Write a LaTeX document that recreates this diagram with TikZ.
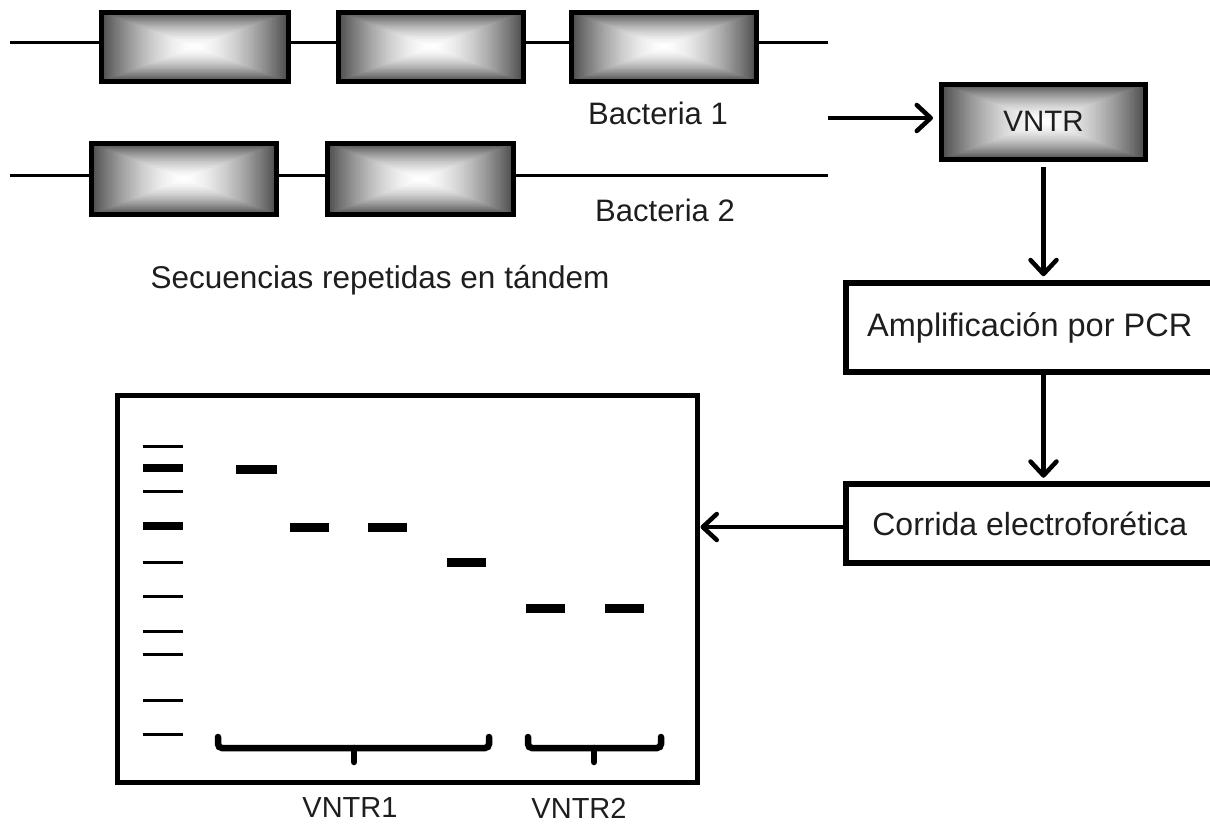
\documentclass[tikz,border=0pt]{standalone}
\usepackage{fontspec}
\setmainfont{Liberation Sans}
\usetikzlibrary{arrows.meta,calc}
\definecolor{edgegray}{RGB}{78,78,78}
\definecolor{txt}{RGB}{30,30,30}
\tikzset{
  gbox/.style={draw, line width=5pt, inner sep=0pt, path picture={
    \foreach \i in {0,...,59} {
      \pgfmathsetmacro\gs{1-\i/60}
      \pgfmathsetmacro\gp{100*(\gs)^1.6}
      \fill[fill=edgegray!\gp!white]
        ($(path picture bounding box.center)!\gs!(path picture bounding box.north west)$)
        rectangle
        ($(path picture bounding box.center)!\gs!(path picture bounding box.south east)$);
    }
  }},
  wbox/.style={draw, line width=6pt, fill=white, inner sep=0pt},
  lbl/.style={font=\fontsize{29}{34}\selectfont, text=txt, inner sep=0pt},
  rowline/.style={line width=3pt},
  arr/.style={line width=4.5pt, -{Straight Barb[length=14pt, width=26pt, round]}},
  thin/.style={line width=3pt},
  thick/.style={line width=8pt},
  band/.style={line width=9pt},
  brace/.style={line width=6.5pt, rounded corners=4pt, line cap=round},
}
\begin{document}
\begin{tikzpicture}[x=1pt, y=-1pt]
\useasboundingbox (0,0) rectangle (1210,827);
\clip (0,0) rectangle (1210,827);

% DNA lines
\coordinate (r1s) at (10,42);
\coordinate (r1e) at (828,42);
\coordinate (r2s) at (10,175);
\coordinate (r2e) at (828,175);
\draw[rowline] (r1s) -- (r1e);
\draw[rowline] (r2s) -- (r2e);

% tandem repeats
\node[gbox, minimum width=186.5pt, minimum height=69.5pt] (A1) at (194.75,46.75) {};
\node[gbox, minimum width=185pt, minimum height=69.5pt] (A2) at (431,46.75) {};
\node[gbox, minimum width=185pt, minimum height=69.5pt] (A3) at (664,46.75) {};
\node[gbox, minimum width=185pt, minimum height=71pt] (B1) at (184,179) {};
\node[gbox, minimum width=186pt, minimum height=71pt] (B2) at (420.5,179) {};

\node[lbl, font=\fontsize{31}{36}\selectfont] (bac1) at (658,113) {Bacteria 1};
\node[lbl, font=\fontsize{31}{36}\selectfont] (bac2) at (665,210) {Bacteria 2};
\node[lbl, font=\fontsize{31.5}{36}\selectfont] (sec) at (380,280) {Secuencias repetidas en tándem};

% flow
\node[gbox, minimum width=204pt, minimum height=75.5pt] (V) at (1043.5,121.75) {\fontsize{29.5}{34}\selectfont\color{txt}VNTR};
\node[wbox, minimum width=368.5pt, minimum height=89pt] (P) at (1029.75,327.75) {\fontsize{32.5}{38}\selectfont\color{txt}Amplificación por PCR};
\node[wbox, minimum width=368.5pt, minimum height=79.5pt] (C) at (1029.75,523.5) {\fontsize{32}{38}\selectfont\color{txt}Corrida electroforética};

\coordinate (a1s) at (828,118);
\draw[arr, shorten >=6pt] (a1s) -- (a1s -| V.west);
\draw[arr, shorten <=5pt, shorten >=4pt] (V.south) -- (V.south |- P.north);
\draw[arr, shorten >=3pt] (V.south |- P.south) -- (V.south |- C.north);

% gel
\node[draw, line width=5pt, minimum width=580pt, minimum height=387pt, inner sep=0pt] (G) at (407,588.5) {};
\coordinate (ly) at (0,527);
\draw[arr, shorten >=1pt] (C.west |- ly) -- (G.east |- ly);

% ladder
\draw[thin] (143,446) -- (183,446);
\draw[thick] (143,468) -- (183,468);
\draw[thin] (143,491) -- (183,491);
\draw[thick] (143,526) -- (183,526);
\draw[thin] (143,562) -- (183,562);
\draw[thin] (143,596) -- (183,596);
\draw[thin] (143,631) -- (183,631);
\draw[thin] (143,654) -- (183,654);
\draw[thin] (143,700) -- (183,700);
\draw[thin] (143,734) -- (183,734);

% bands
\draw[band] (236,469) -- (277,469);
\draw[band] (290,527) -- (329,527);
\draw[band] (368,527) -- (407,527);
\draw[band] (447,562) -- (486,562);
\draw[band] (526,608) -- (565,608);
\draw[band] (605,608) -- (644,608);

% braces
\draw[brace] (218,737) -- (218,748) -- (489,748) -- (489,737);
\draw[brace] (354,748) -- (354,762);
\draw[brace] (528,737) -- (528,748) -- (661,748) -- (661,737);
\draw[brace] (594,748) -- (594,762);

\node[lbl] (v1) at (350,808) {VNTR1};
\node[lbl] (v2) at (579,808) {VNTR2};
\end{tikzpicture}
\end{document}
